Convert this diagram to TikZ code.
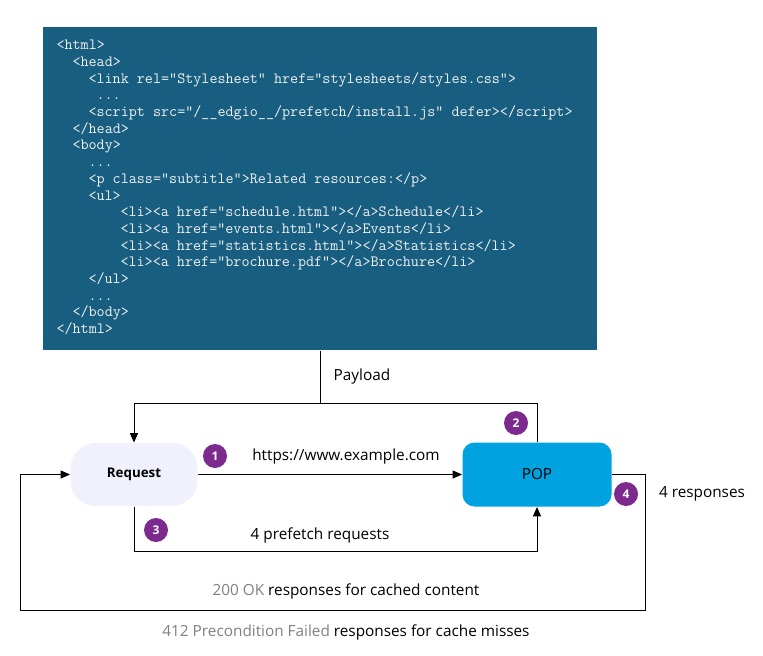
\documentclass[tikz,border=0pt]{standalone}
\usepackage{fontspec}
\setmainfont{Open Sans}
\usetikzlibrary{arrows.meta}
\definecolor{codeblue}{RGB}{23,94,128}
\definecolor{popblue}{RGB}{0,163,224}
\definecolor{reqfill}{RGB}{240,241,252}
\definecolor{steppurple}{RGB}{124,42,142}
\definecolor{softgray}{RGB}{128,128,128}
\tikzset{
  code/.style={anchor=base west, inner sep=0pt, text=white!94!black,
    font=\ttfamily\fontsize{11.75}{13}\selectfont},
  lbl/.style={inner sep=0pt, font=\fontsize{11.5}{13}\selectfont},
  num/.style={circle, fill=steppurple, text=white, inner sep=0pt,
    minimum size=18pt, font=\bfseries\fontsize{9}{10}\selectfont},
  arr/.style={-{Triangle[length=7pt,width=6pt]}},
}
\begin{document}
\begin{tikzpicture}[x=0.75pt,y=-0.75pt,line width=0.75pt]
\useasboundingbox (0,0) rectangle (763,656);
%code block
\node[fill=codeblue, minimum width=415.5pt, minimum height=242.25pt, inner sep=0pt] (page) at (320,188.5) {};
\node[code] (c1) at (56,50) {<html>};
\node[code] (c2) at (72,66.7) {<head>};
\node[code] (c3) at (88,83.3) {<link rel="Stylesheet" href="stylesheets/styles.css">};
\node[code] (c4) at (96,100) {...};
\node[code] (c5) at (88,116.7) {<script src="/\_\_edgio\_\_/prefetch/install.js" defer></script>};
\node[code] (c6) at (72,133.3) {</head>};
\node[code] (c7) at (72,150) {<body>};
\node[code] (c8) at (88,166.7) {...};
\node[code] (c9) at (88,183.3) {<p class="subtitle">Related resources:</p>};
\node[code] (c10) at (88,200) {<ul>};
\node[code] (c11) at (120,216.7) {<li><a href="schedule.html"></a>Schedule</li>};
\node[code] (c12) at (120,233.3) {<li><a href="events.html"></a>Events</li>};
\node[code] (c13) at (120,250) {<li><a href="statistics.html"></a>Statistics</li>};
\node[code] (c14) at (120,266.7) {<li><a href="brochure.pdf"></a>Brochure</li>};
\node[code] (c15) at (88,283.3) {</ul>};
\node[code] (c16) at (88,300) {...};
\node[code] (c17) at (72,316.7) {</body>};
\node[code] (c18) at (56,333.3) {</html>};
%request and pop
\node[fill=reqfill, rounded corners=19pt, minimum width=95.25pt, minimum height=47.25pt,
  font=\bfseries\fontsize{10}{12}\selectfont] (req) at (134,474.5) {Request};
\node[fill=popblue, rounded corners=9pt, minimum width=111.75pt, minimum height=48pt,
  font=\fontsize{11.5}{13}\selectfont] (pop) at (537,474.5) {POP};
%connectors
\draw (page.south) -- ++(0,53);
\draw (362,377) node[lbl] (payload) {Payload};
\draw[arr] (pop.north) -- ++(0,-39) -| (req.north);
\draw[arr] (req) -- (pop);
\draw (346,457) node[lbl] (url) {https://www.example.com};
\draw[arr] (req.south) -- ++(0,45) -| (pop.south);
\draw (320,535) node[lbl] (prefetch) {4 prefetch requests};
\coordinate (loopR) at (645,610);
\coordinate (loopL) at (20,610);
\draw[arr] (pop.east) -| (loopR) -- (loopL) |- (req.west);
\draw (702,494) node[lbl] (resp) {4 responses};
\draw (346,591) node[lbl] (ok) {{\color{softgray}200 OK} responses for cached content};
\draw (346,632) node[lbl] (miss) {{\color{softgray}412 Precondition Failed} responses for cache misses};
%step numbers
\node[num] (n1) at (215,456) {1};
\node[num] (n2) at (516,423) {2};
\node[num] (n3) at (156,530) {3};
\node[num] (n4) at (626,494) {4};
\end{tikzpicture}
\end{document}
